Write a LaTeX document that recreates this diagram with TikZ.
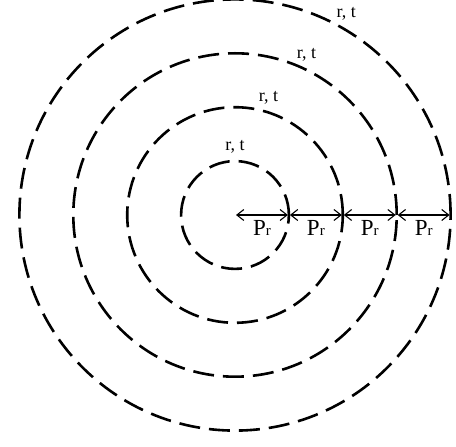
\documentclass[tikz,border=0pt]{standalone}
\usepackage{fontspec}
\setmainfont{Liberation Serif}
\usepackage{tikz}
\usetikzlibrary{positioning,arrows.meta,calc}

\begin{document}
\begin{tikzpicture}[
          x=1pt, y=1pt,
          ring/.style={draw, line width=2.6pt, dash pattern=on 21pt off 9pt},
          dim/.style={line width=1.1pt, {Straight Barb[length=7pt,width=11pt]}-{Straight Barb[length=7pt,width=11pt]}},
          lbl/.style={font=\fontsize{18}{18}\selectfont, inner sep=1pt},
          plbl/.style={font=\fontsize{23}{23}\selectfont, inner sep=1pt}
      ]
        \useasboundingbox (0,0) rectangle (456,447);
        \coordinate (c) at (235,232);
        % rings with their labels
        \foreach \k/\ang in {1/90,2/74,3/66,4/61} {
          \draw[ring] (c) circle ({53.9*\k});
          \node[lbl] (rt\k) at ($(c)+(\ang:{53.9*\k+14})$) {r, t};
        }
        % radial steps
        \foreach \k in {1,...,4} {
          \coordinate (a\k) at ($(c)+({53.9*(\k-1)},0)$);
          \coordinate (b\k) at ($(c)+({53.9*\k},0)$);
          \draw[dim, shorten <=1pt, shorten >=1pt] (a\k) -- (b\k)
            node[plbl, midway, below=4pt] (p\k) {P{\fontsize{15}{15}\selectfont r}};
        }
      \end{tikzpicture}
\end{document}
